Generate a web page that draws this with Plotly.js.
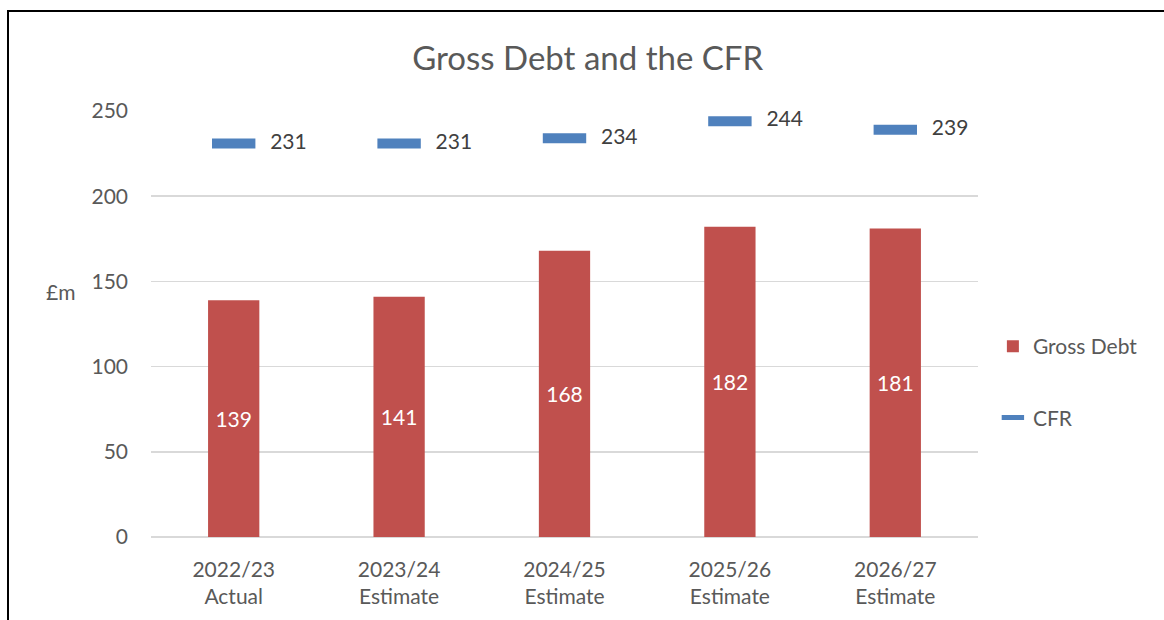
<!DOCTYPE html>
<html>
<head>
<meta charset="utf-8">
<script src="https://cdn.plot.ly/plotly-3.0.1.min.js"></script>
<style>
  html, body { margin: 0; padding: 0; background: #fff; }
  #wrap { position: relative; width: 1164px; height: 620px; overflow: hidden; }
  #chart { width: 1164px; height: 620px; }
  #frame { position: absolute; left: 7px; top: 10px; width: 1170px; height: 620px;
           border-left: 2px solid #000; border-top: 2px solid #000; pointer-events: none; }
</style>
</head>
<body>
<div id="wrap">
  <div id="chart"></div>
  <div id="frame"></div>
</div>
<script>
const categories = ["2022/23<br>Actual", "2023/24<br>Estimate", "2024/25<br>Estimate", "2025/26<br>Estimate", "2026/27<br>Estimate"];
const grossDebt = [139, 141, 168, 182, 181];
const cfr = [231, 231, 234, 244, 239];
const yTicks = [0, 50, 100, 150, 200, 250];

const FONT = "Lato, 'Open Sans', sans-serif";
const GREY = "#595959";
const PAD = "\u00A0\u00A0\u00A0";

const traces = [
  {
    type: "bar",
    name: "Gross Debt",
    x: categories,
    y: grossDebt,
    width: 0.31,
    marker: { color: "#C0504D" },
    text: grossDebt.map(String),
    textposition: "inside",
    insidetextanchor: "middle",
    textfont: { color: "#FFFFFF", size: 21, family: FONT },
    legendgroup: "a",
    hoverinfo: "x+y"
  },
  {
    type: "scatter",
    mode: "markers+text",
    name: "CFR",
    x: categories,
    y: cfr,
    marker: { symbol: "line-ew-open", size: 31, color: "#4F81BD", line: { color: "#4F81BD", width: 10 } },
    text: cfr.map(v => PAD + v),
    textposition: "middle right",
    textfont: { color: "#404040", size: 21, family: FONT },
    legendgroup: "b",
    cliponaxis: false,
    hoverinfo: "x+y"
  }
];

const layout = {
  width: 1164,
  height: 620,
  margin: { l: 151, r: 186, t: 111, b: 83 },
  paper_bgcolor: "#FFFFFF",
  plot_bgcolor: "#FFFFFF",
  font: { family: FONT, color: GREY, size: 21 },
  title: {
    text: "Gross Debt and the CFR",
    font: { family: FONT, size: 33, color: GREY },
    x: 0.528, xanchor: "center",
    y: 0.906, yanchor: "middle",
    xref: "paper"
  },
  xaxis: {
    type: "category",
    showgrid: false,
    zeroline: false,
    showline: false,
    ticks: "",
    ticklabelstandoff: 18,
    tickfont: { family: FONT, size: 21, color: GREY },
    fixedrange: true
  },
  yaxis: {
    range: [0, 250],
    tickvals: yTicks,
    ticktext: yTicks.map(String),
    showgrid: true,
    gridcolor: "#D9D9D9",
    gridwidth: 1.5,
    zeroline: true,
    zerolinecolor: "#D9D9D9",
    zerolinewidth: 1.5,
    showline: false,
    ticks: "",
    ticklabelstandoff: 22,
    tickfont: { family: FONT, size: 21, color: GREY },
    fixedrange: true
  },
  showlegend: true,
  legend: {
    x: 1.018, xanchor: "left",
    y: 0.495, yanchor: "top",
    font: { family: FONT, size: 21, color: GREY },
    tracegroupgap: 41,
    bgcolor: "rgba(0,0,0,0)"
  },
  bargap: 0.69,
  annotations: [
    {
      text: "£m",
      xref: "paper", yref: "paper",
      x: -0.11, y: 0.577,
      xanchor: "center", yanchor: "middle",
      showarrow: false,
      font: { family: FONT, size: 21, color: GREY }
    }
  ]
};

Plotly.newPlot("chart", traces, layout, { displayModeBar: false, staticPlot: true });
</script>
</body>
</html>
